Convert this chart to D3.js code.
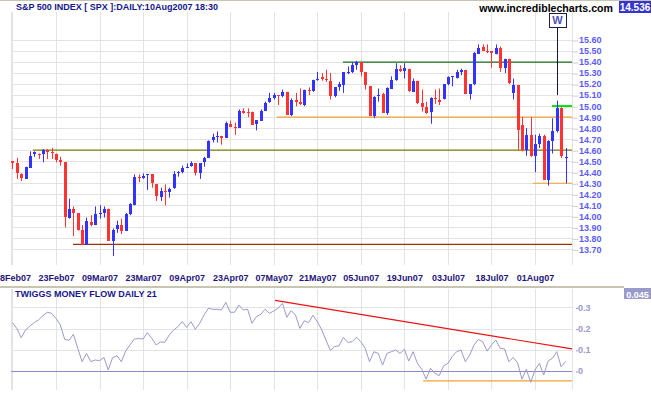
<!DOCTYPE html>
<html>
<head>
<meta charset="utf-8">
<script src="https://cdn.jsdelivr.net/npm/d3@7/dist/d3.min.js"></script>
<style>
html,body{margin:0;padding:0;background:#fff;}
svg{display:block;}
text{font-family:"Liberation Sans",Arial,Helvetica,sans-serif;font-weight:bold;}
</style>
</head>
<body>
<svg id="chart" width="651" height="395"></svg>
<script>
// ---------- DATA ----------
const dates = [
"2007-02-08","2007-02-09","2007-02-12","2007-02-13","2007-02-14","2007-02-15","2007-02-16","2007-02-20","2007-02-21","2007-02-22",
"2007-02-23","2007-02-26","2007-02-27","2007-02-28","2007-03-01","2007-03-02","2007-03-05","2007-03-06","2007-03-07","2007-03-08",
"2007-03-09","2007-03-12","2007-03-13","2007-03-14","2007-03-15","2007-03-16","2007-03-19","2007-03-20","2007-03-21","2007-03-22",
"2007-03-23","2007-03-26","2007-03-27","2007-03-28","2007-03-29","2007-03-30","2007-04-02","2007-04-03","2007-04-04","2007-04-05",
"2007-04-09","2007-04-10","2007-04-11","2007-04-12","2007-04-13","2007-04-16","2007-04-17","2007-04-18","2007-04-19","2007-04-20",
"2007-04-23","2007-04-24","2007-04-25","2007-04-26","2007-04-27","2007-04-30","2007-05-01","2007-05-02","2007-05-03","2007-05-04",
"2007-05-07","2007-05-08","2007-05-09","2007-05-10","2007-05-11","2007-05-14","2007-05-15","2007-05-16","2007-05-17","2007-05-18",
"2007-05-21","2007-05-22","2007-05-23","2007-05-24","2007-05-25","2007-05-29","2007-05-30","2007-05-31","2007-06-01","2007-06-04",
"2007-06-05","2007-06-06","2007-06-07","2007-06-08","2007-06-11","2007-06-12","2007-06-13","2007-06-14","2007-06-15","2007-06-18",
"2007-06-19","2007-06-20","2007-06-21","2007-06-22","2007-06-25","2007-06-26","2007-06-27","2007-06-28","2007-06-29","2007-07-02",
"2007-07-03","2007-07-05","2007-07-06","2007-07-09","2007-07-10","2007-07-11","2007-07-12","2007-07-13","2007-07-16","2007-07-17",
"2007-07-18","2007-07-19","2007-07-20","2007-07-23","2007-07-24","2007-07-25","2007-07-26","2007-07-27","2007-07-30","2007-07-31",
"2007-08-01","2007-08-02","2007-08-03","2007-08-06","2007-08-07","2007-08-08","2007-08-09","2007-08-10"];

const open = [
14.50,14.48,14.38,14.34,14.44,14.56,14.57,14.56,14.60,14.58,
14.57,14.51,14.49,13.99,14.07,14.03,13.88,13.74,13.95,13.92,
14.02,14.03,14.07,13.78,13.88,13.92,13.87,14.02,14.11,14.36,
14.35,14.37,14.38,14.29,14.18,14.23,14.22,14.25,14.39,14.40,
14.44,14.45,14.48,14.39,14.49,14.53,14.69,14.72,14.73,14.71,
14.84,14.81,14.81,14.96,14.95,14.95,14.83,14.87,14.96,15.03,
15.07,15.10,15.09,15.13,14.92,15.06,15.04,15.01,15.15,15.14,
15.24,15.26,15.245,15.23,15.09,15.17,15.19,15.30,15.31,15.37,
15.40,15.31,15.18,14.91,15.09,15.11,14.93,15.16,15.24,15.34,
15.32,15.34,15.13,15.23,15.03,14.99,14.94,15.07,15.06,15.06,
15.20,15.26,15.26,15.31,15.33,15.11,15.20,15.48,15.54,15.50,
15.50,15.48,15.53,15.35,15.43,15.12,15.19,14.83,14.60,14.74,
14.55,14.66,14.73,14.33,14.68,14.77,14.98,14.53];
const high = [
14.50,14.53,14.39,14.45,14.59,14.59,14.57,14.61,14.61,14.62,
14.57,14.54,14.49,14.16,14.09,14.03,13.92,13.99,14.01,14.09,
14.10,14.09,14.07,13.89,13.96,13.98,14.03,14.12,14.38,14.38,
14.39,14.38,14.38,14.29,14.26,14.29,14.26,14.41,14.41,14.46,
14.48,14.50,14.48,14.48,14.54,14.69,14.75,14.77,14.73,14.86,
14.87,14.85,14.97,14.98,14.98,14.95,14.87,14.97,15.04,15.12,
15.12,15.10,15.15,15.13,15.07,15.12,15.16,15.15,15.17,15.24,
15.31,15.30,15.33,15.30,15.17,15.22,15.31,15.36,15.40,15.41,
15.40,15.31,15.18,15.09,15.16,15.12,15.17,15.27,15.39,15.37,
15.39,15.34,15.25,15.23,15.15,15.04,15.08,15.15,15.16,15.20,
15.27,15.27,15.33,15.34,15.33,15.20,15.49,15.56,15.56,15.56,
15.50,15.56,15.54,15.43,15.43,15.25,15.19,14.90,14.80,14.90,
14.74,14.75,14.74,14.69,14.89,15.05,14.99,14.62];
const low = [
14.43,14.34,14.32,14.34,14.44,14.54,14.52,14.49,14.52,14.52,
14.49,14.46,13.90,13.98,13.82,13.87,13.74,13.74,13.91,13.92,
13.98,13.99,13.78,13.64,13.85,13.84,13.87,14.01,14.10,14.31,
14.34,14.24,14.26,14.14,14.14,14.10,14.17,14.25,14.36,14.39,
14.44,14.45,14.37,14.34,14.45,14.53,14.67,14.67,14.65,14.71,
14.81,14.74,14.81,14.93,14.90,14.83,14.78,14.87,14.96,15.03,
15.06,15.01,15.08,14.92,14.91,15.00,15.01,15.00,15.10,15.13,
15.23,15.23,15.22,15.06,15.08,15.14,15.12,15.29,15.30,15.33,
15.27,15.15,14.91,14.89,15.04,14.94,14.92,15.16,15.23,15.31,
15.25,15.13,15.13,15.02,14.95,14.93,14.84,15.02,15.01,15.06,
15.19,15.18,15.25,15.28,15.11,15.06,15.19,15.48,15.50,15.48,
15.35,15.47,15.31,15.30,15.20,15.06,14.60,14.59,14.55,14.54,
14.40,14.62,14.33,14.28,14.57,14.76,14.53,14.30];
const close = [
14.48,14.39,14.34,14.45,14.55,14.58,14.56,14.60,14.58,14.57,
14.52,14.49,13.99,14.07,14.03,13.88,13.74,13.96,13.92,14.02,
14.03,14.07,13.78,13.88,13.92,13.87,14.02,14.11,14.36,14.35,
14.37,14.38,14.30,14.18,14.23,14.22,14.25,14.38,14.40,14.44,
14.45,14.48,14.39,14.48,14.53,14.68,14.72,14.73,14.71,14.85,
14.81,14.80,14.96,14.94,14.94,14.83,14.87,14.96,15.03,15.07,
15.10,15.09,15.13,14.92,15.06,15.04,15.02,15.15,15.14,15.24,
15.25,15.24,15.24,15.09,15.17,15.20,15.31,15.31,15.37,15.40,
15.31,15.19,14.91,15.08,15.10,14.94,15.16,15.24,15.34,15.32,
15.35,15.14,15.23,15.03,14.99,14.94,15.07,15.06,15.04,15.20,
15.26,15.27,15.31,15.33,15.11,15.20,15.48,15.53,15.50,15.49,
15.48,15.53,15.35,15.43,15.21,15.19,14.78,14.60,14.74,14.55,
14.66,14.73,14.33,14.68,14.77,14.98,14.54,14.536];

const tmf = [
0.228,0.201,0.157,0.193,0.212,0.228,0.241,0.261,0.277,0.272,
0.248,0.217,0.149,0.145,0.173,0.107,0.044,0.083,0.044,0.052,
0.049,0.064,0.005,0.063,0.072,0.044,0.094,0.123,0.151,0.153,
0.151,0.181,0.154,0.123,0.137,0.135,0.170,0.193,0.209,0.233,
0.206,0.233,0.197,0.225,0.264,0.296,0.291,0.291,0.288,0.324,
0.277,0.277,0.311,0.288,0.291,0.225,0.256,0.267,0.291,0.272,
0.283,0.296,0.319,0.253,0.285,0.264,0.201,0.237,0.228,0.263,
0.233,0.195,0.145,0.097,0.115,0.119,0.159,0.135,0.138,0.159,
0.138,0.107,0.044,0.091,0.083,0.028,0.083,0.091,0.099,0.083,
0.102,0.047,0.091,0.036,0.008,-0.038,0.013,-0.011,-0.022,0.024,
0.036,0.068,0.091,0.099,0.044,0.075,0.123,0.149,0.138,0.094,
0.123,0.146,0.107,0.104,0.044,0.064,0.039,-0.039,0.008,-0.053,
0.005,0.036,-0.019,0.047,0.060,0.091,0.020,0.045];

const priceTicks = [13.70,13.80,13.90,14.00,14.10,14.20,14.30,14.40,14.50,14.60,14.70,14.80,14.90,15.00,15.10,15.20,15.30,15.40,15.50,15.60];
const tmfTicks = [0, 0.1, 0.2, 0.3];
const dateTickIndex = [0,10,20,30,40,50,60,70,80,90,100,110,120];

// horizontal support/resistance lines (price, first bar index)
const levelPrice = [14.60, 13.745, 14.90, 15.40, 14.30, 15.00];
const levelStart = [4.7, 13.9, 60.7, 75.9, 119.5, 123.9];
// money-flow trendline (bar index, value) and support
const tmfTrendIdx = [60.3, 128.5];
const tmfTrendVal = [0.333, 0.104];
const tmfSupport = -0.047, tmfSupportStart = 94.3;
// "W" marker: bar index, box top/bottom price, line end price
const markerIdx = 125, markerTop = 15.845, markerBottom = 15.72, markerEnd = 15.10;

// ---------- DRAWING ----------
const svg = d3.select("#chart");
const parse = d3.timeParse("%Y-%m-%d");
const fmt = d3.timeFormat("%d%b%y");
const n = dates.length;

const x = d3.scaleLinear().domain([0, n - 1]).range([12.45, 565.5]);
const y = d3.scaleLinear().domain([13.70, 15.60]).range([249.4, 40]);
const yT = d3.scaleLinear().domain([0, 0.3]).range([371, 307.4]);

const plotL = 11, plotR = 572;
const topT = 12, topB = 265, botT = 289, botB = 390;
const gridC = "#e3e3e3";
const px = v => Math.round(v) + 0.5;

// frame top line
svg.append("line").attr("x1", 0).attr("x2", 651).attr("y1", 0.5).attr("y2", 0.5).attr("stroke", "#c8c4b0");

// top panel grid
svg.append("g").selectAll("line").data(priceTicks).join("line")
  .attr("x1", plotL).attr("x2", plotR)
  .attr("y1", d => px(y(d))).attr("y2", d => px(y(d)))
  .attr("stroke", gridC);
const vgrid = dateTickIndex.map(i => x(i));
svg.append("g").selectAll("line").data(vgrid.concat([plotL - 0.5, plotR])).join("line")
  .attr("x1", d => px(d)).attr("x2", d => px(d))
  .attr("y1", topT).attr("y2", topB).attr("stroke", gridC);

// bottom panel grid
svg.append("g").selectAll("line").data(tmfTicks.filter(d => d > 0)).join("line")
  .attr("x1", plotL).attr("x2", plotR)
  .attr("y1", d => px(yT(d))).attr("y2", d => px(yT(d)))
  .attr("stroke", gridC);
svg.append("g").selectAll("line").data(vgrid.concat([plotL - 0.5, plotR])).join("line")
  .attr("x1", d => px(d)).attr("x2", d => px(d))
  .attr("y1", botT).attr("y2", botB).attr("stroke", gridC);

// separator between panels
svg.append("rect").attr("x", 0).attr("y", 286).attr("width", 624).attr("height", 2).attr("fill", "#c9c5b0");

// level lines
const levelColor = ["#808000", "#9c3300", "#f2a033", "#1b6e1b", "#f2a033", "#00dd00"];
const levelWidth = [1.2, 1.2, 1.2, 1.2, 1.2, 2];
svg.append("g").selectAll("line").data(levelPrice).join("line")
  .attr("x1", (d, i) => x(levelStart[i])).attr("x2", plotR)
  .attr("y1", d => y(d)).attr("y2", d => y(d))
  .attr("stroke", (d, i) => levelColor[i]).attr("stroke-width", (d, i) => levelWidth[i]);

// candles
const blue = "#3333ff", red = "#ff3333";
const candles = svg.append("g").selectAll("g").data(d3.range(n)).join("g");
candles.append("line")
  .attr("x1", i => px(x(i))).attr("x2", i => px(x(i)))
  .attr("y1", i => y(high[i])).attr("y2", i => y(low[i]))
  .attr("stroke", i => close[i] >= open[i] ? blue : red).attr("stroke-width", 1);
candles.append("rect")
  .attr("x", i => Math.round(x(i)) - 1).attr("width", 3)
  .attr("y", i => Math.round(y(Math.max(open[i], close[i]))))
  .attr("height", i => Math.max(1, Math.round(Math.abs(y(open[i]) - y(close[i])))))
  .attr("fill", i => close[i] >= open[i] ? blue : red);

// W marker
svg.append("line").attr("x1", px(x(markerIdx))).attr("x2", px(x(markerIdx)))
  .attr("y1", y(markerBottom)).attr("y2", y(markerEnd)).attr("stroke", "#151535").attr("stroke-width", 1);
svg.append("rect").attr("x", Math.round(x(markerIdx)) - 8 + 0.5).attr("y", Math.round(y(markerTop)) + 0.5)
  .attr("width", 17).attr("height", Math.round(y(markerBottom) - y(markerTop)))
  .attr("fill", "#fff").attr("stroke", "#1a1a5a");
svg.append("text").attr("x", px(x(markerIdx))).attr("y", (y(markerTop) + y(markerBottom)) / 2 + 4)
  .attr("text-anchor", "middle").attr("font-size", 11).attr("fill", "#5050c0").text("W");

// price axis
const yAxis = d3.axisRight(y).tickValues(priceTicks).tickSize(6).tickPadding(1).tickFormat(d3.format(".2f"));
const ya = svg.append("g").attr("transform", `translate(${plotR},0)`).call(yAxis);
ya.select(".domain").remove();
ya.selectAll(".tick line").attr("stroke", "#cfcfcf").attr("transform", "translate(0,0.5)");
ya.selectAll("text").attr("font-size", 9).attr("fill", "#5c5cf5").attr("font-family", null).style("font-weight", "bold");

// date axis
const xAxis = d3.axisBottom(x).tickValues(dateTickIndex).tickSize(0).tickFormat(i => fmt(parse(dates[i])));
const xa = svg.append("g").attr("transform", "translate(0,281)").call(xAxis);
xa.select(".domain").remove();
xa.selectAll("text").attr("y", 0).attr("dy", 0).attr("font-size", 9).attr("fill", "#26147c").attr("font-family", null);

// TMF zero line
svg.append("line").attr("x1", plotL).attr("x2", plotR).attr("y1", px(yT(0))).attr("y2", px(yT(0))).attr("stroke", "#8a8acb");
// TMF support
svg.append("line").attr("x1", x(tmfSupportStart)).attr("x2", plotR).attr("y1", yT(tmfSupport)).attr("y2", yT(tmfSupport))
  .attr("stroke", "#f2a033").attr("stroke-width", 1.2);
// TMF line
svg.append("path").datum(tmf)
  .attr("d", d3.line().x((d, i) => x(i)).y(d => yT(d)))
  .attr("fill", "none").attr("stroke", "#9a9acc").attr("stroke-width", 1);
// TMF trendline
svg.append("line").attr("x1", x(tmfTrendIdx[0])).attr("x2", x(tmfTrendIdx[1]))
  .attr("y1", yT(tmfTrendVal[0])).attr("y2", yT(tmfTrendVal[1])).attr("stroke", "#ee1111").attr("stroke-width", 1.2);

// TMF axis
const tAxis = d3.axisRight(yT).tickValues(tmfTicks).tickSize(0).tickPadding(6).tickFormat(d => d === 0 ? "0" : d3.format(".1f")(d));
const ta = svg.append("g").attr("transform", `translate(${plotR},0)`).call(tAxis);
ta.select(".domain").remove();
ta.selectAll("text").attr("font-size", 9).attr("fill", "#9a9acc").attr("font-family", null);
ta.selectAll(".tick").append("line").attr("x1", 4).attr("x2", 6).attr("y1", 0.5).attr("y2", 0.5).attr("stroke", "#9a9acc");

// titles
svg.append("text").attr("x", 16).attr("y", 10).attr("font-size", 9).attr("fill", "#16168a")
  .text("S&P 500 INDEX [ SPX ]:DAILY:10Aug2007 18:30");
svg.append("text").attr("x", 15).attr("y", 297).attr("font-size", 9).attr("fill", "#16168a")
  .text("TWIGGS MONEY FLOW DAILY 21");
svg.append("text").attr("x", 613).attr("y", 12).attr("text-anchor", "end").attr("font-size", 10.6).attr("fill", "#000")
  .text("www.incrediblecharts.com");

// value boxes
svg.append("rect").attr("x", 619).attr("y", 1).attr("width", 32).attr("height", 12).attr("fill", "#3434d0");
svg.append("text").attr("x", 635).attr("y", 11).attr("text-anchor", "middle").attr("font-size", 10).attr("fill", "#fff")
  .text(close[n - 1].toFixed(3));
svg.append("rect").attr("x", 624).attr("y", 288).attr("width", 27).attr("height", 11).attr("fill", "#9a9acc");
svg.append("text").attr("x", 637.5).attr("y", 297.5).attr("text-anchor", "middle").attr("font-size", 9).attr("fill", "#fff")
  .text(tmf[n - 1].toFixed(3));
</script>
</body>
</html>
